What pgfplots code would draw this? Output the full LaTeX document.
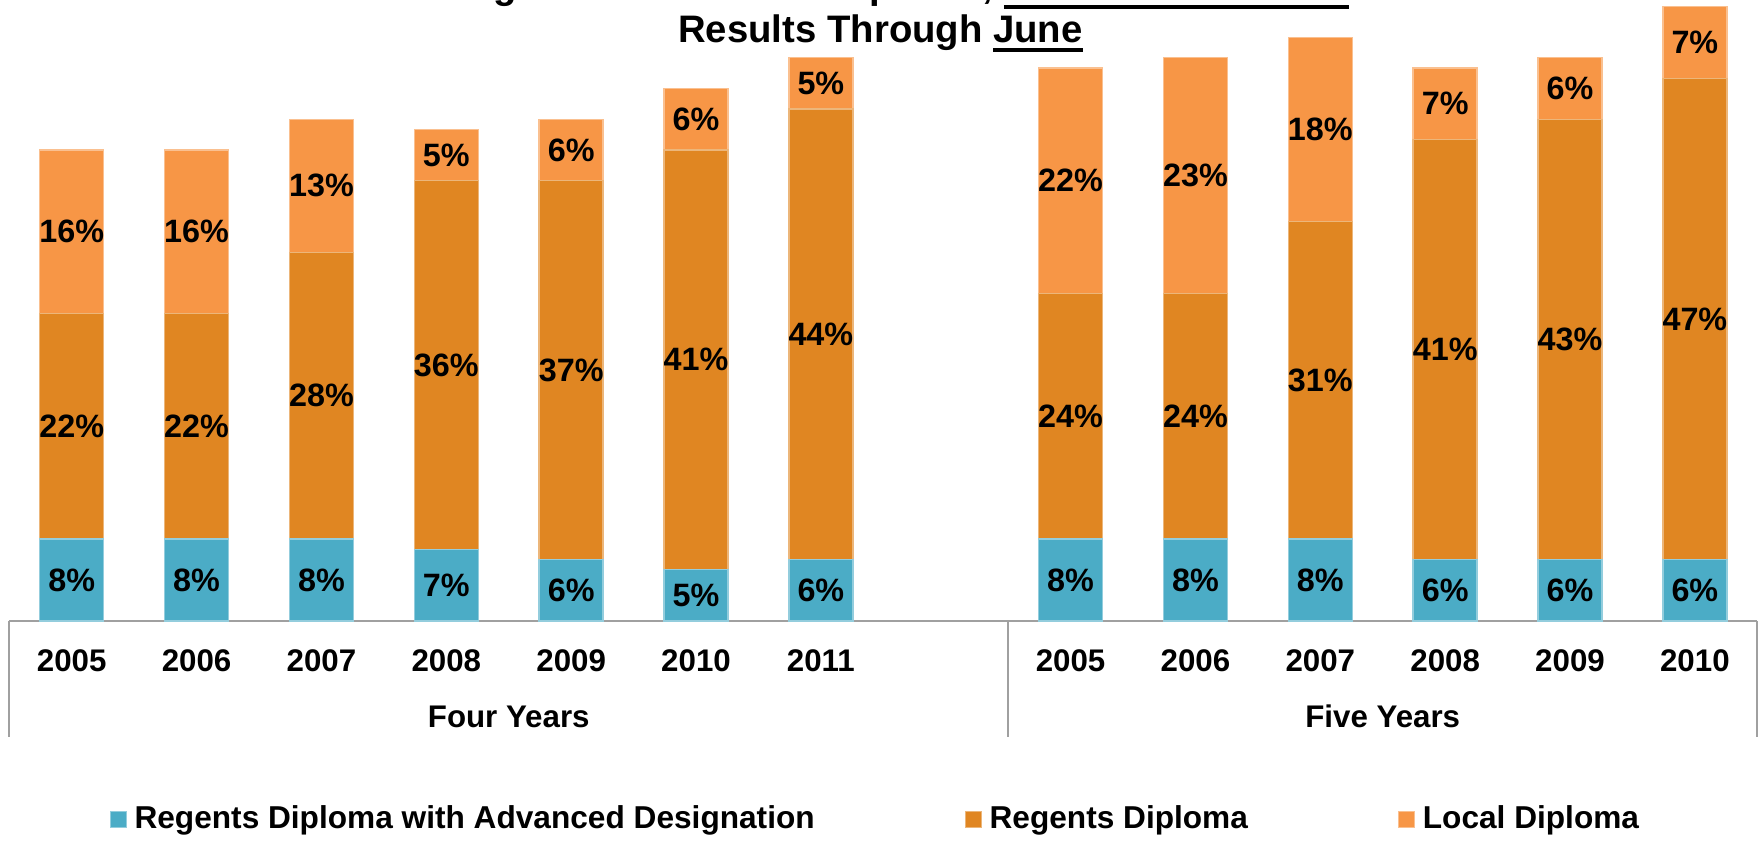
\documentclass[border=0pt]{standalone}
\usepackage{fontspec}
\setmainfont{Liberation Sans}
\usepackage{pgfplots}
\pgfplotsset{compat=1.18}
\definecolor{cblue}{HTML}{4BACC6}
\definecolor{corange}{HTML}{E08622}
\definecolor{clight}{HTML}{F79646}
\definecolor{cgray}{HTML}{A0A0A0}
\newcommand\ul[1]{\sbox0{#1}\rlap{\rule[-2.85pt]{\wd0}{1.1pt}}\usebox0}
\pgfplotsset{
  myaxis/.style={width=174.8mm, height=61.44mm, scale only axis,
    at={(0.93mm,22.0mm)}, anchor=south west,
    xmin=-0.5, xmax=13.5, ymin=0, ymax=60, clip=false},
  sqleg/.style={legend image code/.code={\fill[##1] (0mm,-0.8mm) rectangle (1.6mm,0.8mm); \path (2.35mm,0mm);}}
}
\begin{document}
\begin{tikzpicture}
\useasboundingbox (0,0) rectangle (176.3mm,84.1mm);
\clip (0,0) rectangle (176.3mm,84.1mm);
\begin{axis}[myaxis,
  ybar stacked, bar width=0.512,
  axis line style={draw=none},
  ytick=\empty,
  xtick={0,1,2,3,4,5,6,8,9,10,11,12,13},
  xticklabels={\textbf{2005},\textbf{2006},\textbf{2007},\textbf{2008},\textbf{2009},\textbf{2010},\textbf{2011},\textbf{2005},\textbf{2006},\textbf{2007},\textbf{2008},\textbf{2009},\textbf{2010}},
  major tick length=0pt,
  xticklabel style={anchor=base, yshift=-5.03mm, font=\bfseries\fontsize{8.9}{10}\selectfont},
  extra x ticks={3.5,10.5},
  extra x tick labels={\textbf{Four Years},\textbf{Five Years}},
  extra x tick style={xticklabel style={yshift=-5.6mm}},
  legend style={draw=none, fill=none, at={(0.057,-0.3234)}, anchor=west,
    legend columns=3, inner sep=0pt, nodes={inner sep=0pt},
    font=\bfseries\fontsize{9}{10}\selectfont,
    /tikz/every even column/.append style={column sep=15mm}},
]
\addplot[fill=cblue, draw=cblue!60!white, line width=0.4pt, sqleg] coordinates {
 (0,8) (1,8) (2,8) (3,7) (4,6) (5,5) (6,6)
 (8,8) (9,8) (10,8) (11,6) (12,6) (13,6)};
\addlegendentry{Regents Diploma with Advanced Designation}
\addplot[fill=corange, draw=corange!60!white, line width=0.4pt, sqleg] coordinates {
 (0,22) (1,22) (2,28) (3,36) (4,37) (5,41) (6,44)
 (8,24) (9,24) (10,31) (11,41) (12,43) (13,47)};
\addlegendentry{Regents Diploma}
\addplot[fill=clight, draw=clight!60!white, line width=0.4pt, sqleg] coordinates {
 (0,16) (1,16) (2,13) (3,5) (4,6) (5,6) (6,5)
 (8,22) (9,23) (10,18) (11,7) (12,6) (13,7)};
\addlegendentry{Local Diploma}
\draw[cgray, line width=0.5pt] (axis cs:-0.5,0) -- (axis cs:13.5,0);
\draw[cgray, line width=0.5pt] (axis cs:-0.5,0) -- ([yshift=-11.58mm]axis cs:-0.5,0);
\draw[cgray, line width=0.5pt] (axis cs:7.5,0) -- ([yshift=-11.58mm]axis cs:7.5,0);
\draw[cgray, line width=0.5pt] (axis cs:13.5,0) -- ([yshift=-11.58mm]axis cs:13.5,0);
\end{axis}
\begin{axis}[myaxis, hide axis,
  point meta=explicit symbolic,
  nodes near coords={\pgfplotspointmeta\%},
  every node near coord/.append style={anchor=center, text=black, font=\bfseries\fontsize{9.2}{10}\selectfont}]
\addplot[only marks, mark=none] coordinates {
 (0,4)[8] (1,4)[8] (2,4)[8] (3,3.5)[7] (4,3)[6] (5,2.5)[5] (6,3)[6]
 (8,4)[8] (9,4)[8] (10,4)[8] (11,3)[6] (12,3)[6] (13,3)[6]};
\addplot[only marks, mark=none] coordinates {
 (0,19)[22] (1,19)[22] (2,22)[28] (3,25)[36] (4,24.5)[37] (5,25.5)[41] (6,28)[44]
 (8,20)[24] (9,20)[24] (10,23.5)[31] (11,26.5)[41] (12,27.5)[43] (13,29.5)[47]};
\addplot[only marks, mark=none] coordinates {
 (0,38)[16] (1,38)[16] (2,42.5)[13] (3,45.5)[5] (4,46)[6] (5,49)[6] (6,52.5)[5]
 (8,43)[22] (9,43.5)[23] (10,48)[18] (11,50.5)[7] (12,52)[6] (13,56.5)[7]};
\end{axis}
\node[anchor=base, font=\bfseries\fontsize{10.9}{13}\selectfont] at (88.05mm,79.87mm) {Results Through \ul{June}};
\node[anchor=base, font=\bfseries\fontsize{10.9}{13}\selectfont] at (88.05mm,84.2mm) {Designation and Local Diploma, \ul{After 4 and 5 Years}};
\end{tikzpicture}
\end{document}
